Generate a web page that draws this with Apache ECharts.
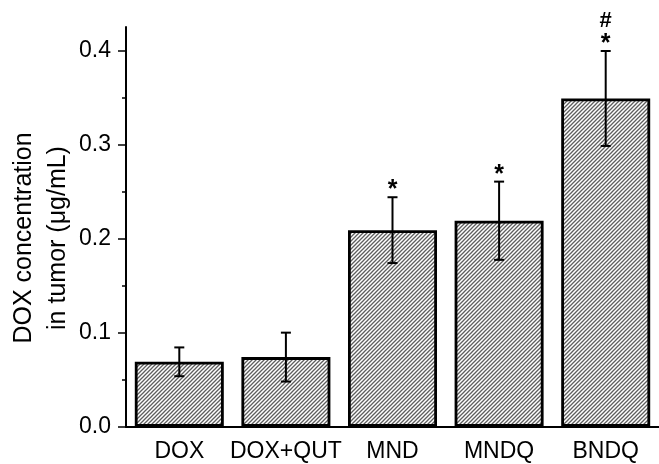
<!DOCTYPE html>
<html>
<head>
<meta charset="utf-8">
<script src="https://cdn.jsdelivr.net/npm/echarts@6/dist/echarts.min.js"></script>
<style>html,body{margin:0;padding:0;background:#fff;}#c{width:659px;height:464px;}</style>
</head>
<body>
<div id="c"></div>
<script>
const categories = ['DOX', 'DOX+QUT', 'MND', 'MNDQ', 'BNDQ'];
const means = [0.069, 0.074, 0.209, 0.219, 0.349];
const errors = [0.0153, 0.026, 0.035, 0.0416, 0.0505];
const marks = ['', '', '*', '*', '*'];
const marks2 = ['', '', '', '', '#'];
const yMajorTicks = [0, 0.1, 0.2, 0.3, 0.4];
const yMinorTicks = [0.05, 0.15, 0.25, 0.35];
const yTitle = 'DOX concentration\nin tumor (μg/mL)';

const tile = document.createElement('canvas');
tile.width = 4; tile.height = 4;
const g = tile.getContext('2d');
g.fillStyle = '#fff'; g.fillRect(0, 0, 4, 4);
g.strokeStyle = '#5e5e5e'; g.lineWidth = 1.3;
g.beginPath();
g.moveTo(-1, 5); g.lineTo(5, -1);
g.moveTo(-1, 1); g.lineTo(1, -1);
g.moveTo(3, 5); g.lineTo(5, 3);
g.stroke();

const font = 'Liberation Sans, Arial, sans-serif';
const chart = echarts.init(document.getElementById('c'));
chart.setOption({
  animation: false,
  backgroundColor: '#fff',
  grid: { left: 126, top: 27, width: 540, height: 399.7 },
  graphic: [{
    type: 'text', x: 41, y: 238, rotation: Math.PI / 2,
    style: { text: yTitle, align: 'center', verticalAlign: 'middle', fontSize: 25, lineHeight: 34, fill: '#000', fontFamily: font }
  }],
  xAxis: [{
    type: 'category', data: categories,
    axisLine: { lineStyle: { color: '#000', width: 2 } },
    axisTick: { length: 4, lineStyle: { color: '#000', width: 1.5 } },
    axisLabel: { fontSize: 23, color: '#000', fontFamily: font, margin: 13, interval: 0 }
  }, {
    type: 'category', data: categories, position: 'bottom',
    axisLine: { show: false },
    axisTick: { alignWithLabel: true, length: 8, lineStyle: { color: '#000', width: 1.5 } },
    axisLabel: { show: false }
  }],
  yAxis: [{
    type: 'value', min: 0, max: 0.425,
    splitLine: { show: false },
    axisLine: { show: true, lineStyle: { color: '#000', width: 2 } },
    axisTick: { show: true, length: 8, customValues: yMajorTicks, lineStyle: { color: '#000', width: 1.5 } },
    axisLabel: { fontSize: 23, color: '#000', fontFamily: font, margin: 15, customValues: yMajorTicks,
      formatter: v => v.toFixed(1) }
  }, {
    type: 'value', min: 0, max: 0.425, position: 'left',
    splitLine: { show: false },
    axisLine: { show: false },
    axisTick: { show: true, length: 4, customValues: yMinorTicks, lineStyle: { color: '#000', width: 1.5 } },
    axisLabel: { show: false }
  }],
  series: [{
    type: 'bar', data: means, barWidth: 89,
    itemStyle: { color: { image: tile, repeat: 'repeat' }, borderColor: '#000', borderWidth: 2.8 }
  }, {
    type: 'custom',
    data: means.map((m, i) => [i, m, errors[i]]),
    z: 10,
    renderItem: function (params, api) {
      const i = api.value(0), m = api.value(1), e = api.value(2);
      const top = api.coord([i, m + e]);
      const bot = api.coord([i, m - e]);
      const hw = 5;
      const st = { stroke: '#000', lineWidth: 2 };
      const children = [
        { type: 'line', shape: { x1: top[0], y1: top[1], x2: bot[0], y2: bot[1] }, style: st },
        { type: 'line', shape: { x1: top[0] - hw, y1: top[1], x2: top[0] + hw, y2: top[1] }, style: st },
        { type: 'line', shape: { x1: bot[0] - hw, y1: bot[1], x2: bot[0] + hw, y2: bot[1] }, style: st }
      ];
      const k = params.dataIndex;
      if (marks[k]) {
        children.push({ type: 'text', style: { text: marks[k], x: top[0], y: top[1] - 7, align: 'center', verticalAlign: 'middle', fontSize: 25, fontWeight: 'bold', fill: '#000', fontFamily: font } });
      }
      if (marks2[k]) {
        children.push({ type: 'text', style: { text: marks2[k], x: top[0], y: top[1] - 30, align: 'center', verticalAlign: 'middle', fontSize: 22, fontWeight: 'bold', fill: '#000', fontFamily: font } });
      }
      return { type: 'group', children };
    }
  }]
});
</script>
</body>
</html>
